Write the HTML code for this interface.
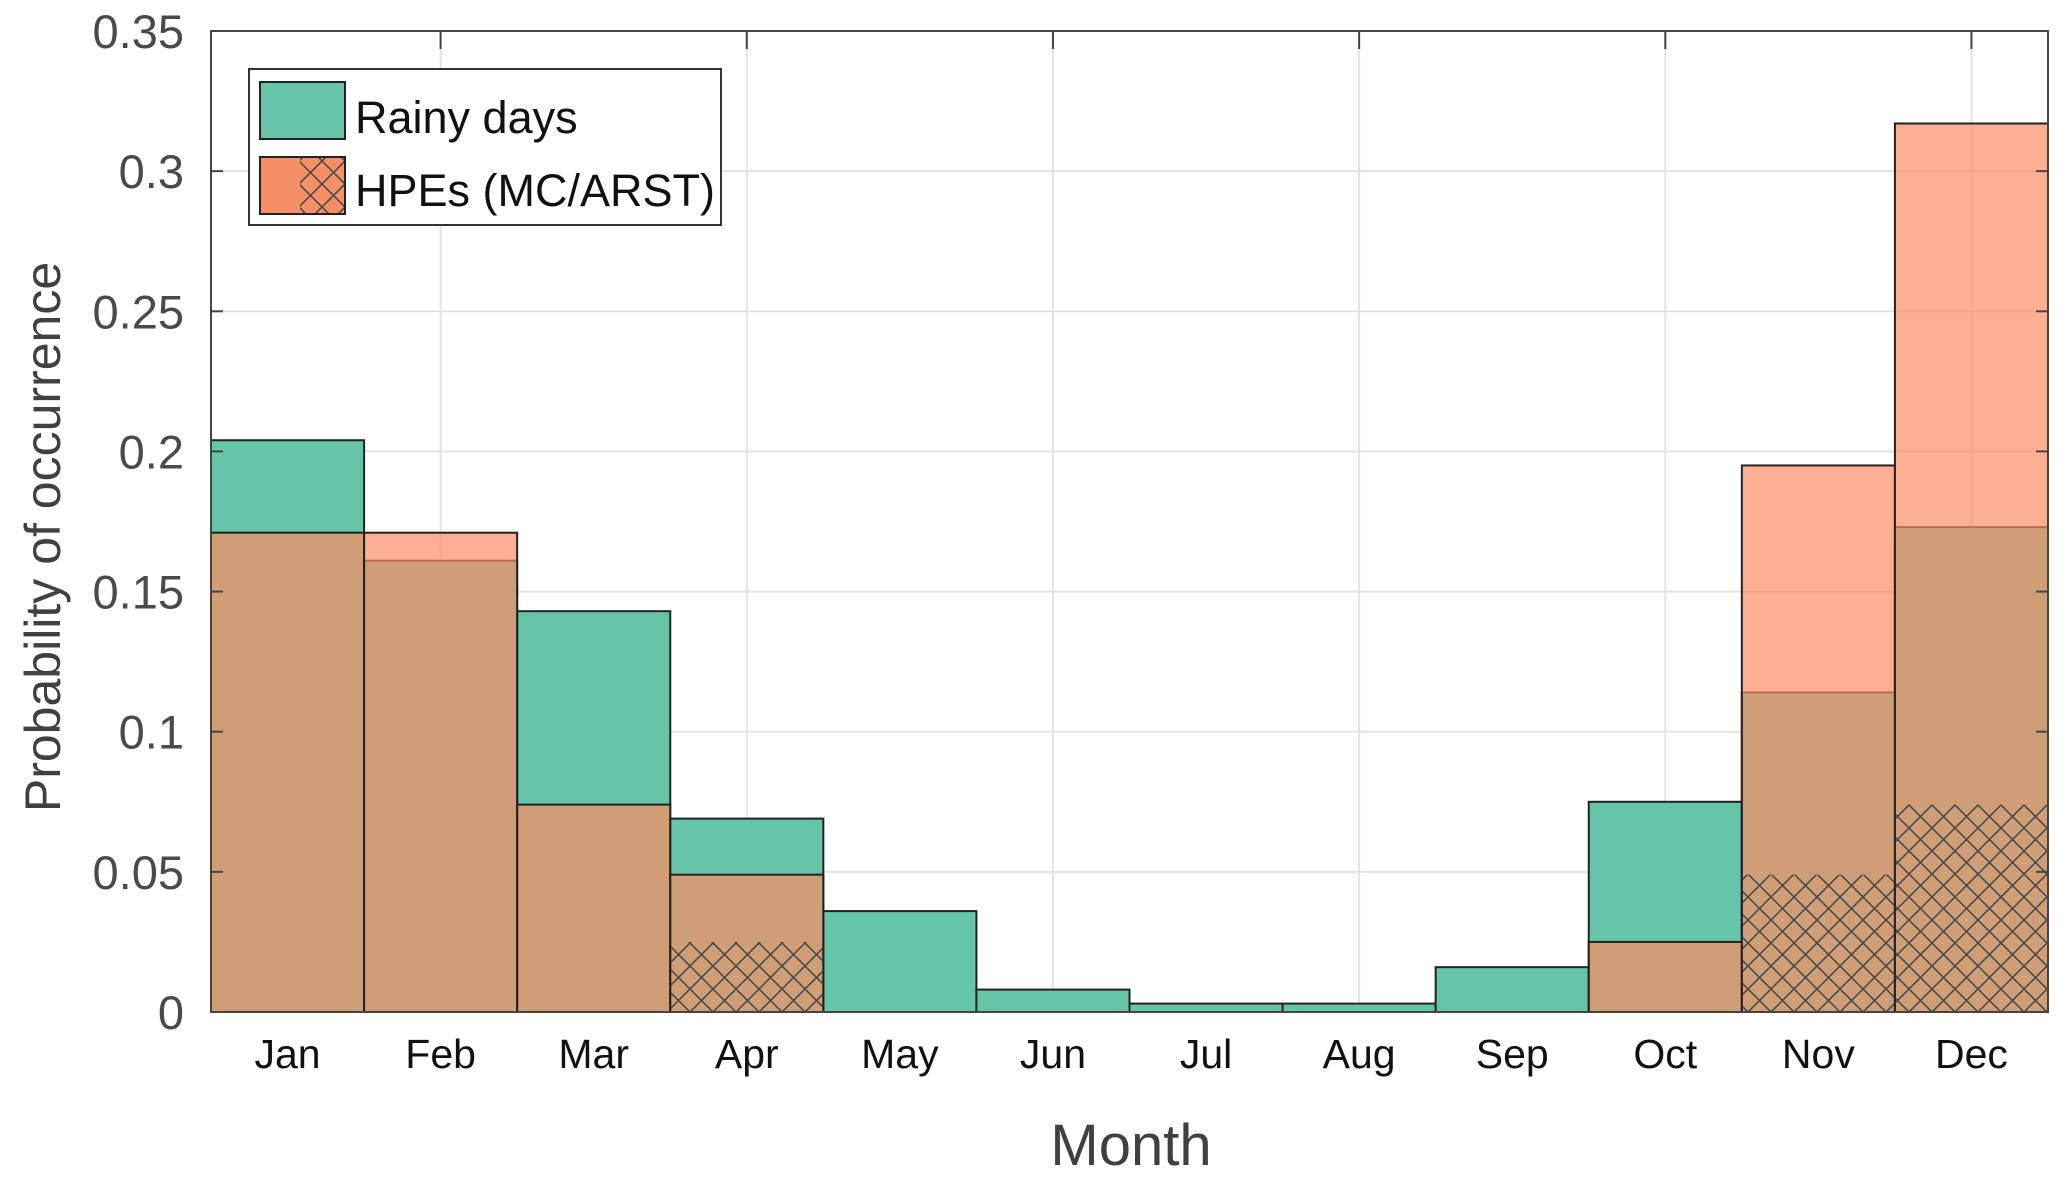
<!DOCTYPE html>
<html><head><meta charset="utf-8">
<style>
html,body{margin:0;padding:0;background:#fff;}
svg{display:block;font-family:"Liberation Sans",sans-serif;}
</style></head>
<body>
<svg id="chart" width="2067" height="1186" viewBox="0 0 2067 1186">
<defs>
<pattern id="hatch" patternUnits="userSpaceOnUse" width="23" height="23">
<path d="M0,0 L23,23 M23,0 L0,23" stroke="#4a4a4a" stroke-width="1.6" fill="none"/>
</pattern>
</defs>
<g id="grid"></g>
<g id="bars"></g>
<g id="axes"></g>
<text x="1131" y="1165" font-size="58" fill="#404040" text-anchor="middle">Month</text>
<text transform="translate(60,537) rotate(-90)" font-size="50" fill="#404040" text-anchor="middle">Probability of occurrence</text>
<g>
<rect x="249" y="69" width="472" height="156" fill="#fff" stroke="#333" stroke-width="2"/>
<g>
<rect x="260" y="82" width="85" height="57" fill="#66c5a8" stroke="#222" stroke-width="2"/>
<text x="355" y="133" font-size="45" fill="#111">Rainy days</text>
</g>
<g>
<rect x="260" y="157" width="85" height="57" fill="#f68f65" stroke="#222" stroke-width="2"/>
<rect x="300" y="157" width="45" height="57" fill="url(#hatch)"/>
<rect x="260" y="157" width="85" height="57" fill="none" stroke="#222" stroke-width="2"/>
<text x="355" y="206" font-size="45" fill="#111">HPEs (MC/ARST)</text>
</g>
</g>
</svg>
<script>
const months = ["Jan","Feb","Mar","Apr","May","Jun","Jul","Aug","Sep","Oct","Nov","Dec"];
const rainyDays = [0.204,0.161,0.143,0.069,0.036,0.008,0.003,0.003,0.016,0.075,0.114,0.173];
const hpes = [0.171,0.171,0.074,0.049,0,0,0,0,0,0.025,0.195,0.317];
const hpesHatched = [0,0,0,0.025,0,0,0,0,0,0,0.049,0.074];
const yTicks = [0,0.05,0.1,0.15,0.2,0.25,0.3,0.35];
const yTickLabels = ["0","0.05","0.1","0.15","0.2","0.25","0.3","0.35"];

const NS="http://www.w3.org/2000/svg";
const L=211,R=2048,T=31,B=1012,YMAX=0.35;
const bw=(R-L)/months.length;
const xs=i=>L+i*bw;
const ys=v=>B-(v/YMAX)*(B-T);
function mk(tag,attrs,parent){const e=document.createElementNS(NS,tag);for(const k in attrs)e.setAttribute(k,attrs[k]);parent.appendChild(e);return e;}
const grid=document.getElementById('grid'),bars=document.getElementById('bars'),axes=document.getElementById('axes');

yTicks.forEach((v,i)=>{
  if(i>0&&i<yTicks.length-1){const g=mk('line',{x1:L,x2:R,y1:ys(v),y2:ys(v),stroke:'#e3e3e3','stroke-width':2},grid);
  
  }
  const t=mk('text',{x:184,y:ys(v)+17,'font-size':47,fill:'#4a4a4a','text-anchor':'end'},axes);
  t.textContent=yTickLabels[i];
  
  
  mk('line',{x1:L,x2:L+12,y1:ys(v),y2:ys(v),stroke:'#444','stroke-width':2},axes);
  mk('line',{x1:R-12,x2:R,y1:ys(v),y2:ys(v),stroke:'#444','stroke-width':2},axes);
});
months.forEach((m,i)=>{
  const cx=xs(i)+bw/2;
  if(i%2===1){const g=mk('line',{x1:cx,x2:cx,y1:T,y2:B,stroke:'#e3e3e3','stroke-width':2},grid);
  
  
  mk('line',{x1:cx,x2:cx,y1:T,y2:T+18,stroke:'#444','stroke-width':2},axes);}
  const t=mk('text',{x:cx,y:1068,'font-size':41,fill:'#111','text-anchor':'middle'},axes);
  t.textContent=m;
  
  
});
months.forEach((m,i)=>{
  const r=mk('rect',{x:xs(i),y:ys(rainyDays[i]),width:bw,height:B-ys(rainyDays[i]),fill:'#66c5a8',stroke:'#222','stroke-width':2},bars);
  
  
});
months.forEach((m,i)=>{
  if(hpes[i]<=0)return;
  const r=mk('rect',{x:xs(i),y:ys(hpes[i]),width:bw,height:B-ys(hpes[i]),fill:'#fc8d62','fill-opacity':0.7,stroke:'#222','stroke-width':2},bars);
  
  
  if(hpesHatched[i]>0){
    const h=mk('rect',{x:xs(i)+1,y:ys(hpesHatched[i]),width:bw-2,height:B-ys(hpesHatched[i]),fill:'url(#hatch)'},bars);
    
    
  }
});
const f=mk('rect',{x:L,y:T,width:R-L,height:B-T,fill:'none',stroke:'#444','stroke-width':2},axes);


</script>
</body></html>
